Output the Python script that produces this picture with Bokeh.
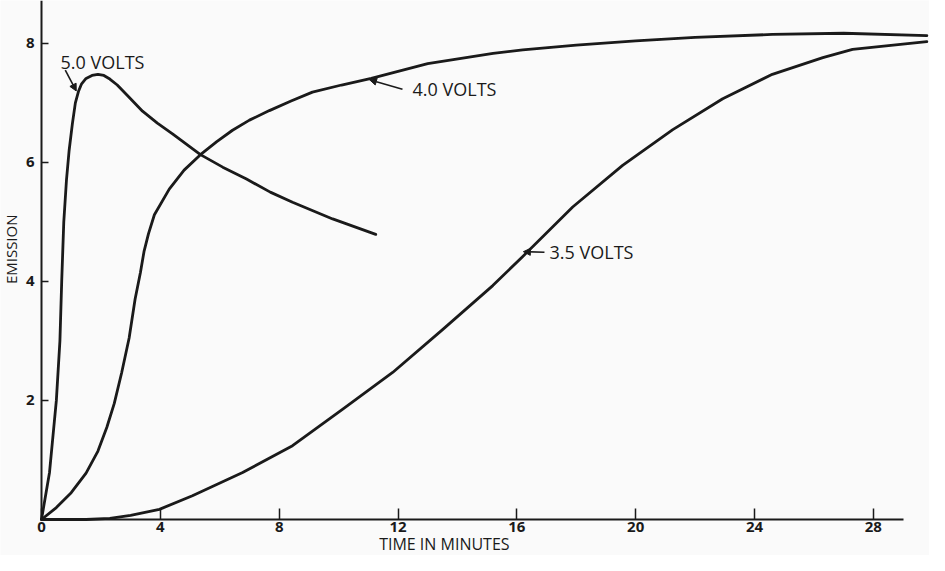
import math
from bokeh.plotting import figure
from bokeh.models import Range1d, FixedTicker, Arrow, NormalHead, LinearAxis
from bokeh.core.properties import value
from bokeh.embed import file_html
from bokeh.resources import INLINE

# ---- data ----
t_50 = [0, 0.27, 0.5, 0.62, 0.68, 0.75, 0.84, 0.93, 1.04, 1.14, 1.25, 1.35, 1.5, 1.7, 1.9,
        2.1, 2.3, 2.55, 2.9, 3.4, 3.9, 4.41, 5.35, 6.1, 6.9, 7.7, 8.45, 9.8, 11.25]
e_50 = [0, 0.79, 2.0, 3.0, 4.0, 5.0, 5.7, 6.2, 6.65, 7.0, 7.2, 7.32, 7.41, 7.46, 7.48,
        7.46, 7.4, 7.3, 7.12, 6.86, 6.66, 6.48, 6.13, 5.92, 5.72, 5.5, 5.33, 5.05, 4.79]

t_40 = [0, 0.5, 1.0, 1.5, 1.9, 2.2, 2.45, 2.7, 2.95, 3.15, 3.33, 3.45, 3.6, 3.8, 4.3,
        4.8, 5.35, 5.9, 6.43, 7.0, 7.67, 8.4, 9.12, 10.1, 11.1, 13.0, 15.2, 16.2,
        18.0, 20.0, 22.0, 24.6, 27.0, 29.8]
e_40 = [0, 0.2, 0.45, 0.78, 1.15, 1.55, 1.95, 2.47, 3.05, 3.7, 4.15, 4.5, 4.8, 5.12, 5.55,
        5.87, 6.13, 6.35, 6.54, 6.71, 6.87, 7.03, 7.18, 7.3, 7.41, 7.66, 7.83, 7.89,
        7.97, 8.04, 8.1, 8.15, 8.17, 8.13]

t_35 = [0, 1.5, 2.3, 3.0, 3.97, 5.08, 6.77, 8.45, 10.13, 11.82, 13.5, 15.19, 16.2,
        17.88, 19.56, 21.25, 22.93, 24.6, 26.3, 27.3, 29.8]
e_35 = [0, 0.0, 0.02, 0.07, 0.17, 0.4, 0.79, 1.24, 1.85, 2.47, 3.19, 3.93, 4.42,
        5.25, 5.95, 6.55, 7.07, 7.48, 7.76, 7.9, 8.03]

x_ticks = [0, 4, 8, 12, 16, 20, 24, 28]
y_ticks = [2, 4, 6, 8]

curve_labels = ["5.0 VOLTS", "4.0 VOLTS", "3.5 VOLTS"]
x_title = "TIME IN MINUTES"
y_title = "EMISSION"

# ---- annotation placement ----
label_x = [0.64, 12.49, 17.1]
label_y = [7.68, 7.23, 4.49]
arrow_start = [(0.8, 7.55), (12.15, 7.23), (16.93, 4.49)]
arrow_end = [(1.17, 7.2), (11.04, 7.39), (16.22, 4.5)]
x_title_pos = (13.56, -0.42)
y_title_pos = (-1.01, 4.54)

INK = "#1a1a1a"
BG = "#fafafa"
FONT = "Open Sans"

p = figure(width=929, height=555, x_range=Range1d(-1.38, 29.89), y_range=Range1d(-0.605, 8.72),
           output_backend="svg", toolbar_location=None,
           x_axis_location=None, y_axis_location=None,
           min_border_left=0, min_border_right=0, min_border_top=0, min_border_bottom=0)
p.background_fill_color = BG
p.border_fill_color = BG
p.outline_line_color = None
p.grid.visible = False

for t, e in [(t_50, e_50), (t_40, e_40), (t_35, e_35)]:
    p.line(t, e, line_color=INK, line_width=2.8, line_join="round", line_cap="round")

p.text(x=label_x, y=label_y, text=curve_labels, text_font=value(FONT),
       text_font_size="18px", text_color=INK, text_baseline="middle", text_align="left")

for (x0, y0), (x1, y1) in zip(arrow_start, arrow_end):
    p.add_layout(Arrow(x_start=x0, y_start=y0, x_end=x1, y_end=y1,
                       line_color=INK, line_width=1.6,
                       end=NormalHead(size=7, fill_color=INK, line_color=INK)))

# axes, fixed at the data origin
xa = LinearAxis(fixed_location=0, ticker=FixedTicker(ticks=x_ticks), bounds=(0, 29))
ya = LinearAxis(fixed_location=0, ticker=FixedTicker(ticks=y_ticks), bounds=(0, 8.72))
for ax in (xa, ya):
    ax.axis_line_color = INK
    ax.axis_line_width = 2
    ax.major_tick_line_color = INK
    ax.major_tick_line_width = 1.5
    ax.major_tick_out = 0
    ax.minor_tick_line_color = None
    ax.major_label_text_font = FONT
    ax.major_label_text_font_size = "15px"
    ax.major_label_text_font_style = "bold"
    ax.major_label_text_color = INK
xa.major_tick_in = 11
ya.major_tick_in = 7
xa.major_label_standoff = 3
ya.major_label_standoff = 7
p.add_layout(xa, "below")
p.add_layout(ya, "left")

# axis titles
p.text(x=[x_title_pos[0]], y=[x_title_pos[1]], text=[x_title], text_font=value(FONT),
       text_font_size="16px", text_color=INK, text_align="center", text_baseline="middle")
p.text(x=[y_title_pos[0]], y=[y_title_pos[1]], text=[y_title], text_font=value(FONT),
       angle=math.pi / 2, text_font_size="15px", text_color=INK,
       text_align="center", text_baseline="middle")

open("out.html", "w").write(file_html(p, INLINE))
